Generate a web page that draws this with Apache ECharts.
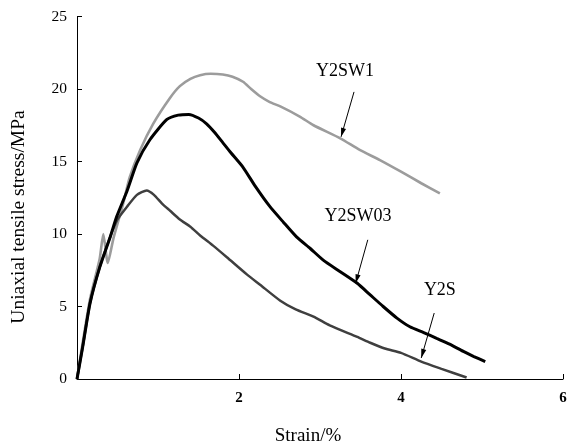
<!DOCTYPE html>
<html>
<head>
<meta charset="utf-8">
<script src="https://cdn.jsdelivr.net/npm/echarts@6/dist/echarts.min.js"></script>
<style>
  html, body { margin: 0; padding: 0; background: #fff; }
  #chart { width: 570px; height: 445px; }
</style>
</head>
<body>
<div id="chart"></div>
<script>
// 数据
var y2sw1Strain = [0, 0.05, 0.16, 0.28, 0.325, 0.38, 0.45, 0.57, 0.65, 0.78, 0.94, 1.15, 1.27, 1.40, 1.52, 1.65, 1.80, 1.92, 2.05, 2.15, 2.26, 2.38, 2.51, 2.75, 2.92, 3.25, 3.49, 3.74, 4.0, 4.25, 4.48];
var y2sw1Stress = [0, 1.8, 5.5, 8.3, 10.0, 8.0, 9.7, 12.1, 13.9, 15.8, 17.6, 19.4, 20.2, 20.7, 20.95, 21.05, 21.0, 20.85, 20.5, 20.0, 19.5, 19.1, 18.8, 18.1, 17.5, 16.6, 15.8, 15.1, 14.3, 13.5, 12.8];

var y2sw03Strain = [0, 0.07, 0.16, 0.28, 0.41, 0.49, 0.62, 0.74, 0.90, 1.11, 1.25, 1.38, 1.50, 1.60, 1.70, 1.80, 1.90, 2.05, 2.20, 2.38, 2.55, 2.71, 2.88, 3.04, 3.25, 3.46, 3.62, 3.78, 3.95, 4.11, 4.28, 4.44, 4.60, 4.77, 4.90, 5.04];
var y2sw03Stress = [0, 2.2, 5.2, 7.7, 9.8, 11.2, 13.0, 14.9, 16.5, 17.9, 18.2, 18.25, 18.0, 17.6, 17.0, 16.3, 15.6, 14.6, 13.3, 11.9, 10.8, 9.8, 9.0, 8.2, 7.4, 6.6, 5.8, 5.0, 4.2, 3.6, 3.2, 2.8, 2.4, 1.9, 1.55, 1.2];

var y2sStrain = [0, 0.07, 0.16, 0.28, 0.41, 0.50, 0.62, 0.74, 0.86, 0.95, 1.05, 1.15, 1.27, 1.40, 1.52, 1.68, 1.85, 2.10, 2.26, 2.51, 2.70, 2.92, 3.12, 3.46, 3.62, 3.80, 4.0, 4.25, 4.5, 4.81];
var y2sStress = [0, 2.2, 5.2, 7.7, 9.8, 11.0, 11.9, 12.7, 13.0, 12.7, 12.1, 11.6, 11.0, 10.5, 9.9, 9.2, 8.4, 7.2, 6.5, 5.4, 4.8, 4.3, 3.7, 2.9, 2.5, 2.1, 1.8, 1.2, 0.7, 0.1];

var seriesNames = ['Y2SW1', 'Y2SW03', 'Y2S'];
var xTicks = [0, 2, 4, 6];
var yTicks = [0, 5, 10, 15, 20, 25];

// annotation: label position and arrow [from, to], in data units
var notes = [
    { text: 'Y2SW1',  at: [3.31, 21.2], from: [3.42, 19.8], to: [3.26, 16.7] },
    { text: 'Y2SW03', at: [3.47, 11.2], from: [3.59, 9.6],  to: [3.44, 6.6] },
    { text: 'Y2S',    at: [4.48, 6.1],  from: [4.41, 4.55], to: [4.25, 1.45] }
];

function pairs(xs, ys) {
    var out = [];
    for (var i = 0; i < xs.length; i++) out.push([xs[i], ys[i]]);
    return out;
}

var myChart = echarts.init(document.getElementById('chart'), null, { renderer: 'canvas' });
var serif = 'Liberation Serif, Times New Roman, serif';

var option = {
    animation: false,
    backgroundColor: '#fff',
    grid: { left: 77, right: 7, top: 16.5, bottom: 66, containLabel: false },
    xAxis: {
        type: 'value',
        min: xTicks[0], max: xTicks[xTicks.length - 1], interval: 2,
        axisLine: { onZero: false, lineStyle: { color: '#000', width: 1 } },
        axisTick: { inside: true, length: 5, lineStyle: { color: '#000' } },
        axisLabel: {
            color: '#000', fontFamily: serif, fontSize: 15, fontWeight: 'bold', margin: 12,
            formatter: function (v) { return v === 0 ? '' : v; }
        },
        splitLine: { show: false }
    },
    yAxis: {
        type: 'value',
        min: yTicks[0], max: yTicks[yTicks.length - 1], interval: 5,
        axisLine: { show: true, onZero: false, lineStyle: { color: '#000', width: 1 } },
        axisTick: { show: true, inside: true, length: 5, lineStyle: { color: '#000' } },
        axisLabel: { color: '#000', fontFamily: serif, fontSize: 15.5, margin: 10 },
        splitLine: { show: false }
    },
    series: [
        {
            name: seriesNames[0], type: 'line', showSymbol: false, smooth: 0.2,
            lineStyle: { color: '#9c9c9c', width: 2.6 },
            data: pairs(y2sw1Strain, y2sw1Stress)
        },
        {
            name: seriesNames[2], type: 'line', showSymbol: false, smooth: 0.2,
            lineStyle: { color: '#3f3f3f', width: 2.5 },
            data: pairs(y2sStrain, y2sStress)
        },
        {
            name: seriesNames[1], type: 'line', showSymbol: false, smooth: 0.2,
            lineStyle: { color: '#000', width: 3 },
            data: pairs(y2sw03Strain, y2sw03Stress)
        }
    ]
};
myChart.setOption(option);

// 注释 + axis titles
var g = [];
notes.forEach(function (n) {
    var p = myChart.convertToPixel({ gridIndex: 0 }, n.at);
    var a = myChart.convertToPixel({ gridIndex: 0 }, n.from);
    var b = myChart.convertToPixel({ gridIndex: 0 }, n.to);
    g.push({
        type: 'text', x: p[0], y: p[1],
        style: { text: n.text, font: '18px ' + serif, fill: '#000', align: 'center', verticalAlign: 'middle' }
    });
    g.push({
        type: 'line', shape: { x1: a[0], y1: a[1], x2: b[0], y2: b[1] },
        style: { stroke: '#000', lineWidth: 1 }
    });
    var ang = Math.atan2(b[1] - a[1], b[0] - a[0]);
    var L = 9, W = 2.6;
    var bx = b[0] - L * Math.cos(ang), by = b[1] - L * Math.sin(ang);
    g.push({
        type: 'polygon',
        shape: { points: [
            [b[0], b[1]],
            [bx + W * Math.sin(ang), by - W * Math.cos(ang)],
            [bx - W * Math.sin(ang), by + W * Math.cos(ang)]
        ] },
        style: { fill: '#000' }
    });
});
g.push({
    type: 'text', x: 18.5, y: 217, rotation: Math.PI / 2,
    style: { text: 'Uniaxial tensile stress/MPa', font: '19.5px ' + serif, fill: '#000', align: 'center', verticalAlign: 'middle' }
});
g.push({
    type: 'text', x: 308, y: 436,
    style: { text: 'Strain/%', font: '19px ' + serif, fill: '#000', align: 'center', verticalAlign: 'middle' }
});
myChart.setOption({ graphic: g });
</script>
</body>
</html>
